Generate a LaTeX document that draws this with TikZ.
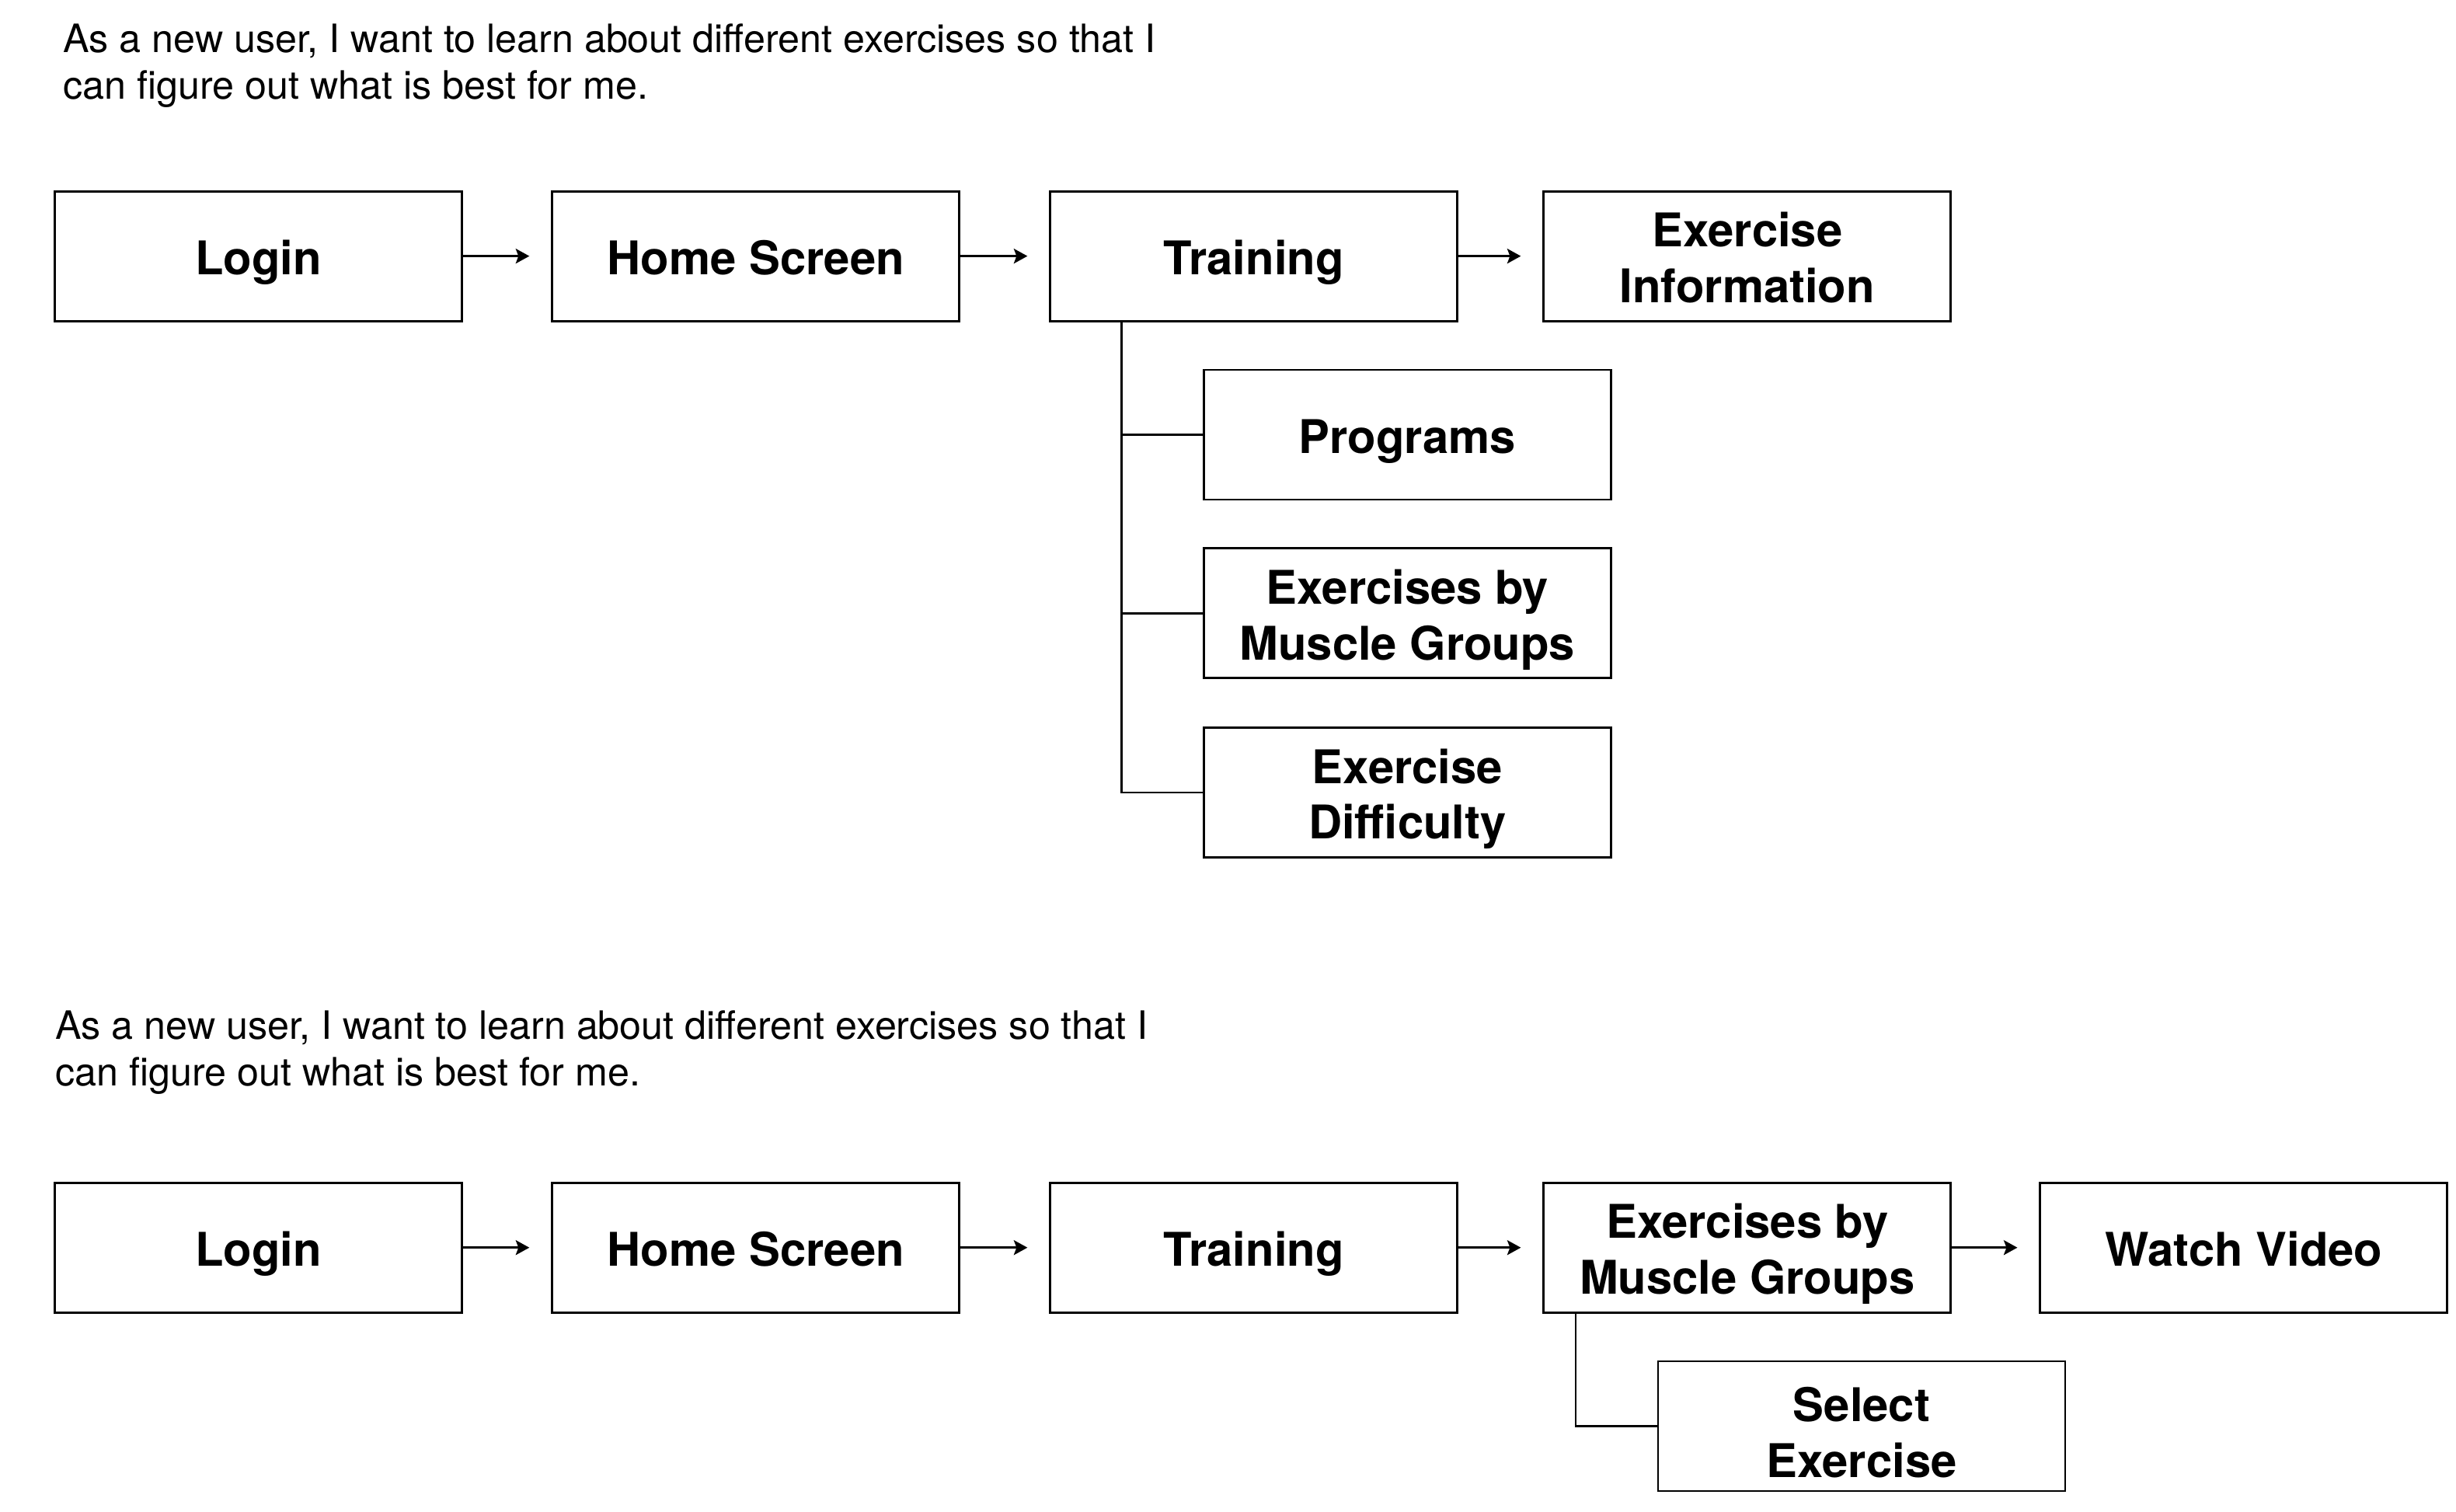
\documentclass[tikz,border=0pt]{standalone}
\usepackage{fontspec}
\setmainfont{TeX Gyre Heros}
\usetikzlibrary{arrows.meta}

\begin{document}
\begin{tikzpicture}[x=0.2016mm,y=-0.2016mm,
    story/.style={anchor=north west,inner sep=0pt,align=left,
      font=\fontsize{14.3}{17}\selectfont},
    box/.style={draw,line width=0.8pt,minimum width=52.4mm,minimum height=16.7mm,
      inner sep=0pt,align=center,font=\bfseries\fontsize{17}{20.4}\selectfont},
    onebox/.style={box,text height=17.4pt,text depth=3.6pt},
    twobox/.style={box,text height=34pt,text depth=0pt},
    arr/.style={line width=0.8pt,shorten >=2.8mm,-{Stealth[length=1.75mm,width=1.9mm,inset=0.35mm]}},
    tree/.style={line width=0.8pt}]
  \useasboundingbox (0,0) rectangle (1568,965);
  % first story
  \node[story] (story1) at (40,15) {As a new user, I want to learn about different exercises so that I\\can figure out what is best for me.};
  \node[onebox] (login1) at (165,163.5) {Login};
  \node[onebox] (home1) at (482.5,163.5) {Home Screen};
  \node[onebox] (train1) at (800.5,163.5) {Training};
  \node[twobox] (info1) at (1115.5,163.5) {Exercise\\Information};
  \node[onebox] (prog1) at (898.5,277.5) {Programs};
  \node[twobox] (muscle1) at (898.5,391.5) {Exercises by\\Muscle Groups};
  \node[twobox] (diff1) at (898.5,506) {Exercise\\Difficulty};
  \draw[arr] (login1) -- (home1);
  \draw[arr] (home1) -- (train1);
  \draw[arr] (train1) -- (info1);
  \coordinate (trunk1) at (716,205);
  \draw[tree] (trunk1) |- (prog1.west);
  \draw[tree] (trunk1) |- (muscle1.west);
  \draw[tree] (trunk1) |- (diff1.west);
  % second story
  \node[story] (story2) at (35,645) {As a new user, I want to learn about different exercises so that I\\can figure out what is best for me.};
  \node[onebox] (login2) at (165,796.5) {Login};
  \node[onebox] (home2) at (482.5,796.5) {Home Screen};
  \node[onebox] (train2) at (800.5,796.5) {Training};
  \node[twobox] (muscle2) at (1115.5,796.5) {Exercises by\\Muscle Groups};
  \node[onebox] (video2) at (1432.5,796.5) {Watch Video};
  \node[twobox,text height=37.5pt] (select2) at (1188.5,910.5) {Select\\Exercise};
  \draw[arr] (login2) -- (home2);
  \draw[arr] (home2) -- (train2);
  \draw[arr] (train2) -- (muscle2);
  \draw[arr] (muscle2) -- (video2);
  \coordinate (trunk2) at (1006,838);
  \draw[tree] (trunk2) |- (select2.west);
\end{tikzpicture}
\end{document}
